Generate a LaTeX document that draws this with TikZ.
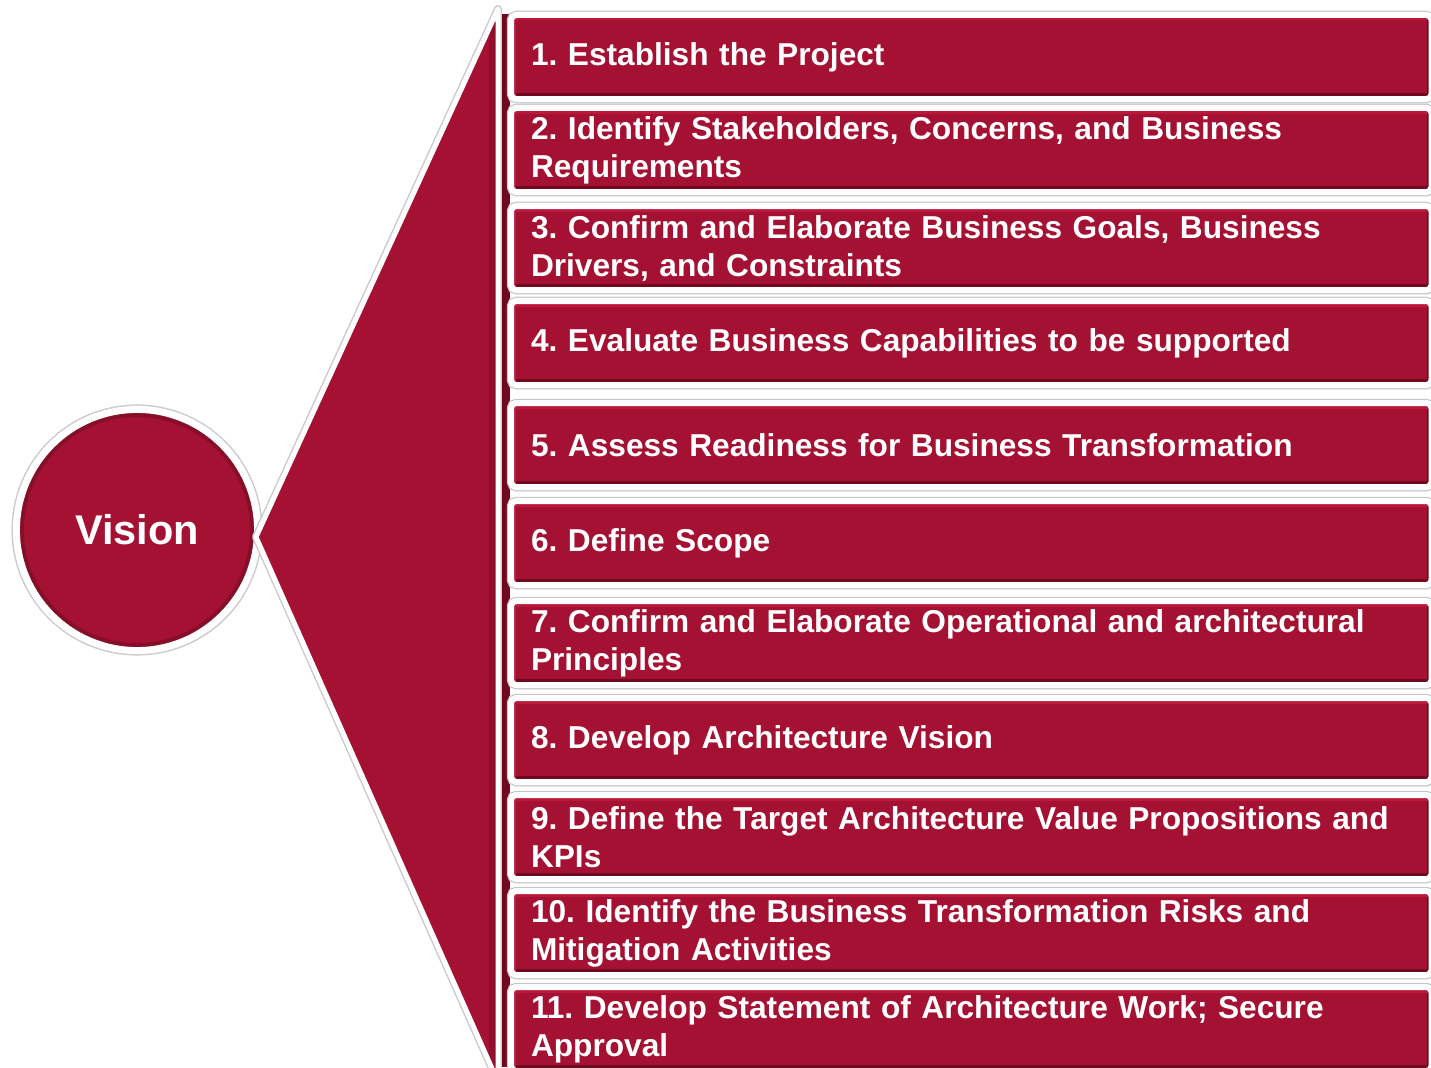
\documentclass[tikz,border=0pt]{standalone}
\usepackage{fontspec}
\setmainfont{Liberation Sans}
\usepackage{tikz}
\usetikzlibrary{shadows}
\definecolor{visred}{RGB}{164,17,50}
\definecolor{visdark}{RGB}{112,8,30}
\definecolor{vislight}{RGB}{188,24,58}
\frenchspacing

\begin{document}
\begin{tikzpicture}[x=0.01cm, y=-0.01cm,
    stepbar/.style={anchor=north west, draw=white, line width=0.6mm, fill=visred,
      rounded corners=0.5mm, minimum width=9.2cm, minimum height=0.84cm,
      inner xsep=2.0mm, inner ysep=0pt, text width=8.8cm, align=left, text=white,
      font=\fontsize{9pt}{10.8pt}\selectfont\bfseries,
      drop shadow={opacity=0.3, shadow xshift=0.2mm, shadow yshift=-0.4mm},
      preaction={draw=black!22, line width=0.85mm},
      path picture={
        \draw[visdark, line width=1.3mm] (path picture bounding box.south west) -- (path picture bounding box.south east);
        \draw[visdark, line width=1.0mm] (path picture bounding box.south east) -- (path picture bounding box.north east);
        \draw[vislight, line width=1.1mm] (path picture bounding box.north west) -- (path picture bounding box.north east);
        \draw[vislight, line width=1.0mm] (path picture bounding box.north west) -- (path picture bounding box.south west);
      }}]
  \useasboundingbox (0,0) rectangle (1431,1067);

  \node[circle, draw=white, line width=0.7mm, fill=visred, minimum size=2.41cm, text=white,
    font=\fontsize{11.8pt}{14pt}\selectfont\bfseries,
    drop shadow={opacity=0.3, shadow xshift=0.3mm, shadow yshift=-0.4mm},
    preaction={draw=black!20, line width=1.0mm},
    path picture={\draw[visred!82!black, line width=0.8mm] (path picture bounding box.center) circle (1.17cm);}]
    (vision) at (137,530) {Vision};

  \coordinate (fanapex) at (256,537);
  \coordinate (fantop) at (498,9);
  \coordinate (fanbot) at (498,1082);
  \draw[white, line width=0.5mm, fill=visred, line join=round,
    drop shadow={opacity=0.25, shadow xshift=0.3mm, shadow yshift=-0.3mm},
    preaction={draw=black!20, line width=0.8mm, line join=round},
    path picture={\draw[visred!88!black, line width=1.8mm] (fantop) -- (fanbot);}]
    (fanapex) -- (fantop) -- (fanbot) -- cycle;

  \fill[visdark] (502,14) rectangle (510,1067);

  \node[stepbar] (s1) at (508,12) {1. Establish the Project};
  \node[stepbar] (s2) at (508,105) {2. Identify Stakeholders, Concerns, and Business\\Requirements};
  \node[stepbar] (s3) at (508,203) {3. Confirm and Elaborate Business Goals, Business\\Drivers, and Constraints};
  \node[stepbar] (s4) at (508,298) {4. Evaluate Business Capabilities to be supported};
  \node[stepbar] (s5) at (508,400) {5. Assess Readiness for Business Transformation};
  \node[stepbar] (s6) at (508,498) {6. Define Scope};
  \node[stepbar] (s7) at (508,598) {7. Confirm and Elaborate Operational and architectural\\Principles};
  \node[stepbar] (s8) at (508,695) {8. Develop Architecture Vision};
  \node[stepbar] (s9) at (508,792) {9. Define the Target Architecture Value Propositions and\\KPIs};
  \node[stepbar] (s10) at (508,888) {10. Identify the Business Transformation Risks and\\Mitigation Activities};
  \node[stepbar] (s11) at (508,984) {11. Develop Statement of Architecture Work; Secure\\Approval};
\end{tikzpicture}
\end{document}
